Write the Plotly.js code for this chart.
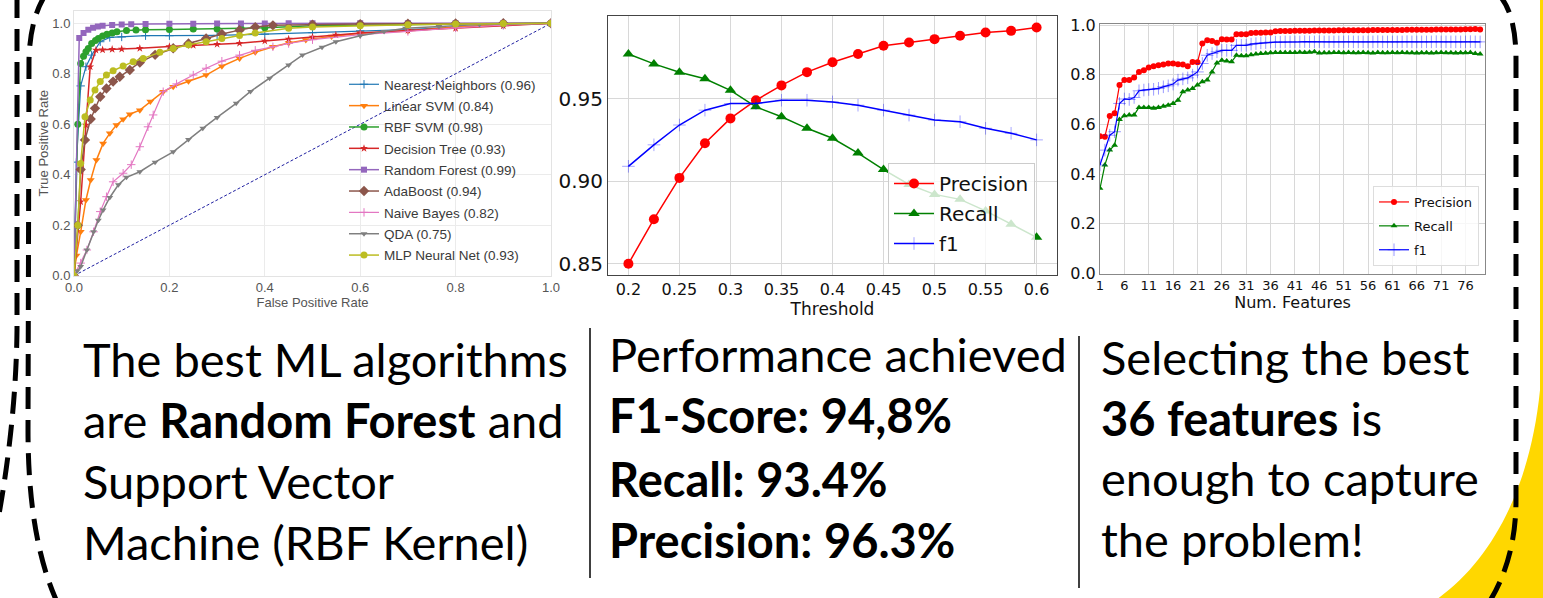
<!DOCTYPE html>
<html><head><meta charset="utf-8">
<script src="https://cdn.plot.ly/plotly-3.0.1.min.js"></script>
<style>html,body{margin:0;padding:0;background:#fff;}#chart{width:1543px;height:598px;}</style>
</head><body><div id="chart"></div>
<script>
// ---------------- ROC data (False Positive Rate / True Positive Rate) ----------------
const rocNames = ['Nearest Neighbors (0.96)','Linear SVM (0.84)','RBF SVM (0.98)','Decision Tree (0.93)','Random Forest (0.99)','AdaBoost (0.94)','Naive Bayes (0.82)','QDA (0.75)','MLP Neural Net (0.93)'];
const fprNN  = [0,0.005,0.014,0.025,0.037,0.055,0.075,0.1,0.15,0.2,0.3,0.4,0.5,0.6,0.7,0.8,0.9,1];
const tprNN  = [0,0.45,0.752,0.828,0.874,0.927,0.944,0.946,0.951,0.951,0.952,0.957,0.963,0.97,0.975,0.985,0.993,1];
const fprLSVM = [0,0.005,0.014,0.025,0.035,0.047,0.061,0.075,0.089,0.103,0.117,0.138,0.16,0.187,0.208,0.24,0.277,0.31,0.347,0.38,0.417,0.45,0.486,0.54,0.6,0.7,0.8,0.9,1];
const tprLSVM = [0,0.08,0.174,0.3,0.379,0.458,0.524,0.564,0.597,0.62,0.64,0.656,0.69,0.729,0.749,0.77,0.795,0.83,0.861,0.885,0.907,0.922,0.934,0.948,0.96,0.97,0.985,0.995,1];
const fprRBF = [0,0.008,0.014,0.02,0.025,0.03,0.037,0.045,0.051,0.06,0.069,0.08,0.09,0.11,0.13,0.15,0.2,0.25,0.3,0.35,0.4,0.5,0.6,0.7,0.8,0.9,1];
const tprRBF = [0,0.6,0.841,0.87,0.887,0.9,0.92,0.932,0.94,0.95,0.957,0.962,0.967,0.972,0.974,0.975,0.976,0.977,0.977,0.979,0.982,0.99,0.993,0.995,0.997,0.999,1];
const fprDT = [0,0.014,0.025,0.034,0.046,0.06,0.08,0.1,0.138,0.2,0.25,0.3,0.347,0.4,0.45,0.5,0.549,0.6,0.7,0.8,0.9,1];
const tprDT = [0,0.293,0.597,0.828,0.894,0.895,0.897,0.898,0.901,0.908,0.913,0.917,0.921,0.93,0.938,0.946,0.954,0.962,0.972,0.98,0.99,1];
const fprRF = [0,0.011,0.02,0.03,0.04,0.05,0.06,0.08,0.1,0.12,0.15,0.2,0.25,0.3,0.35,0.4,0.45,0.5,0.6,0.7,0.8,0.9,1];
const tprRF = [0,0.942,0.962,0.975,0.982,0.987,0.99,0.993,0.995,0.996,0.997,0.998,0.998,0.999,0.999,0.999,1,1,1,1,1,1,1];
const fprAda = [0,0.008,0.014,0.023,0.035,0.044,0.055,0.068,0.082,0.096,0.117,0.138,0.17,0.208,0.24,0.277,0.31,0.347,0.38,0.417,0.5,0.6,0.7,0.8,0.9,1];
const tprAda = [0,0.2,0.421,0.538,0.621,0.663,0.709,0.742,0.769,0.788,0.815,0.845,0.875,0.901,0.92,0.94,0.958,0.973,0.985,0.992,0.995,0.997,0.998,0.999,1,1];
const fprNB = [0,0.014,0.027,0.041,0.055,0.068,0.082,0.103,0.12,0.138,0.155,0.166,0.187,0.215,0.25,0.277,0.31,0.347,0.38,0.417,0.45,0.5,0.6,0.7,0.8,0.9,1];
const tprNB = [0,0.05,0.102,0.174,0.254,0.313,0.372,0.406,0.44,0.511,0.59,0.637,0.729,0.76,0.795,0.822,0.85,0.874,0.893,0.907,0.92,0.935,0.955,0.968,0.982,0.993,1];
const fprQDA = [0,0.007,0.014,0.027,0.041,0.051,0.061,0.075,0.093,0.11,0.138,0.17,0.208,0.24,0.27,0.3,0.34,0.37,0.41,0.45,0.479,0.52,0.549,0.6,0.65,0.695,0.765,0.85,1];
const tprQDA = [0,0.02,0.036,0.102,0.174,0.22,0.26,0.31,0.36,0.39,0.412,0.45,0.491,0.54,0.584,0.627,0.683,0.73,0.782,0.835,0.874,0.905,0.927,0.951,0.968,0.98,0.987,0.995,1];
const fprMLP = [0,0.008,0.014,0.023,0.034,0.044,0.055,0.068,0.082,0.103,0.124,0.145,0.18,0.208,0.24,0.277,0.31,0.347,0.38,0.45,0.5,0.6,0.7,0.8,0.9,1];
const tprMLP = [0,0.2,0.445,0.63,0.696,0.736,0.769,0.795,0.812,0.831,0.848,0.861,0.885,0.9,0.915,0.927,0.94,0.952,0.962,0.98,0.985,0.99,0.994,0.997,0.999,1];
const chanceX = [0,1];
const chanceY = [0,1];
const rocTicks = [0,0.2,0.4,0.6,0.8,1.0];

// ---------------- Threshold chart ----------------
const thresholds = [0.2,0.225,0.25,0.275,0.3,0.325,0.35,0.375,0.4,0.425,0.45,0.475,0.5,0.525,0.55,0.575,0.6];
const precisionThr = [0.850,0.877,0.902,0.923,0.938,0.949,0.958,0.966,0.972,0.977,0.982,0.984,0.986,0.988,0.990,0.991,0.993];
const recallThr    = [0.977,0.971,0.966,0.962,0.955,0.945,0.939,0.932,0.926,0.917,0.907,0.898,0.892,0.889,0.882,0.874,0.866];
const f1Thr        = [0.909,0.922,0.934,0.943,0.947,0.947,0.949,0.949,0.948,0.946,0.943,0.940,0.937,0.936,0.932,0.929,0.925];
const thrTickVals = [0.2,0.25,0.3,0.35,0.4,0.45,0.5,0.55,0.6];
const thrTickText = ['0.2','0.25','0.3','0.35','0.4','0.45','0.5','0.55','0.6'];
const thrYTickVals = [0.85,0.90,0.95];
const thrYTickText = ['0.85','0.90','0.95'];

// ---------------- Feature-count chart ----------------
const numFeatures = [1,2,3,4,5,6,7,8,9,10,11,12,13,14,15,16,17,18,19,20,21,22,23,24,25,26,27,28,29,30,31,32,33,34,35,36,37,38,39,40,41,42,43,44,45,46,47,48,49,50,51,52,53,54,55,56,57,58,59,60,61,62,63,64,65,66,67,68,69,70,71,72,73,74,75,76,77,78,79];
const precisionFeat = [0.553,0.551,0.634,0.645,0.759,0.779,0.779,0.790,0.812,0.819,0.830,0.835,0.839,0.842,0.846,0.846,0.843,0.842,0.835,0.852,0.851,0.926,0.940,0.937,0.929,0.944,0.943,0.943,0.964,0.964,0.964,0.969,0.970,0.970,0.971,0.971,0.976,0.977,0.977,
  0.977,0.978,0.978,0.978,0.978,0.979,0.979,0.979,0.979,0.979,0.980,0.980,0.980,0.980,0.980,0.980,0.980,0.981,0.981,0.981,0.981,0.981,0.981,0.981,0.982,0.982,0.982,0.982,0.982,0.982,0.983,0.983,0.983,0.983,0.983,0.983,0.984,0.984,0.985,0.983];
const recallFeat = [0.343,0.437,0.497,0.517,0.620,0.635,0.638,0.638,0.669,0.669,0.669,0.666,0.669,0.674,0.678,0.685,0.698,0.732,0.739,0.745,0.759,0.772,0.779,0.812,0.848,0.859,0.856,0.853,0.879,0.877,0.877,0.881,0.884,0.886,0.887,0.889,0.890,0.890,0.890,0.890,
  0.890,0.891,0.890,0.891,0.893,0.888,0.889,0.889,0.890,0.890,0.889,0.890,0.889,0.889,0.890,0.889,0.888,0.890,0.889,0.889,0.890,0.889,0.890,0.889,0.889,0.888,0.889,0.889,0.888,0.889,0.890,0.889,0.889,0.888,0.889,0.889,0.890,0.886,0.884];
const f1Feat = [0.437,0.497,0.557,0.571,0.685,0.703,0.701,0.709,0.736,0.739,0.741,0.742,0.746,0.752,0.756,0.763,0.779,0.784,0.788,0.799,0.812,0.846,0.879,0.886,0.893,0.899,0.899,0.899,0.919,0.919,0.919,0.924,0.926,0.929,0.930,0.932,0.932,0.932,0.933,0.933,
  0.933,0.933,0.934,0.933,0.933,0.934,0.933,0.933,0.933,0.933,0.933,0.934,0.933,0.933,0.933,0.933,0.933,0.934,0.933,0.933,0.933,0.933,0.933,0.934,0.933,0.933,0.933,0.933,0.933,0.934,0.933,0.933,0.933,0.933,0.933,0.933,0.934,0.933,0.933];
const featTickVals = [1,6,11,16,21,26,31,36,41,46,51,56,61,66,71,76];
const featYTickVals = [0,0.2,0.4,0.6,0.8,1.0];
const metricNames = ['Precision','Recall','f1'];

// ---------------- Slide text ----------------
const col1Lines = ['The best ML algorithms','are <b>Random Forest</b> and','Support Vector','Machine (RBF Kernel)'];
const col2Lines = ['Performance achieved','<b>F1-Score: 94,8%</b>','<b>Recall: 93.4%</b>','<b>Precision: 96.3%</b>'];
const col3Lines = ['Selecting the best','<b>36 features</b> is','enough to capture','the problem!'];

// ====================================================================
const W = 1543, H = 598;
const px = x => x / W;
const py = y => 1 - y / H;
const P = (x, y) => px(x).toFixed(5) + ',' + py(y).toFixed(5);

const rocSets = [
  [fprNN, tprNN, '#1f77b4', {symbol:'cross-thin', size:6, line:{width:1, color:'#1f77b4'}}, 1.2],
  [fprLSVM, tprLSVM, '#ff7f0e', {symbol:'triangle-down', size:7}, 1.5],
  [fprRBF, tprRBF, '#2ca02c', {symbol:'circle', size:7}, 1.5],
  [fprDT, tprDT, '#d62728', {symbol:'star', size:6}, 1.5],
  [fprRF, tprRF, '#9467bd', {symbol:'square', size:6}, 1.5],
  [fprAda, tprAda, '#8c564b', {symbol:'diamond', size:8}, 1.5],
  [fprNB, tprNB, '#e377c2', {symbol:'cross-thin', size:6, line:{width:1, color:'#e377c2'}}, 1.2],
  [fprQDA, tprQDA, '#7f7f7f', {symbol:'triangle-down', size:6}, 1.5],
  [fprMLP, tprMLP, '#bcbd22', {symbol:'circle', size:7}, 1.5]
];
const traces = [];
traces.push({x:chanceX, y:chanceY, mode:'lines', line:{color:'#1f1fa0', width:1, dash:'3px,2px'}, showlegend:false, xaxis:'x', yaxis:'y', hoverinfo:'skip'});
rocSets.forEach((s, i) => {
  const m = Object.assign({color:s[2]}, s[3]);
  traces.push({x:s[0], y:s[1], name:rocNames[i], mode:'lines+markers', line:{color:s[2], width:s[4]}, marker:m,
               xaxis:'x', yaxis:'y', legend:'legend', legendgroup:'r'+i});
});
// threshold chart
traces.push({x:thresholds, y:precisionThr, name:metricNames[0], mode:'lines+markers', line:{color:'#ff0000', width:1.5}, marker:{symbol:'circle', size:10, color:'#ff0000'}, xaxis:'x2', yaxis:'y2', legend:'legend2', legendgroup:'t0'});
traces.push({x:thresholds, y:recallThr, name:metricNames[1], mode:'lines+markers', line:{color:'#008000', width:1.5}, marker:{symbol:'triangle-up', size:10, color:'#008000'}, xaxis:'x2', yaxis:'y2', legend:'legend2', legendgroup:'t1'});
traces.push({x:thresholds, y:f1Thr, name:metricNames[2], mode:'lines+markers', line:{color:'#0000ff', width:1.5}, marker:{symbol:'cross-thin', size:9, line:{width:1, color:'rgba(0,0,255,0.35)'}}, xaxis:'x2', yaxis:'y2', legend:'legend2', legendgroup:'t2'});
// feature chart
traces.push({x:numFeatures, y:precisionFeat, name:metricNames[0], mode:'lines+markers', line:{color:'#ff0000', width:1.2}, marker:{symbol:'circle', size:6, color:'#ff0000'}, xaxis:'x3', yaxis:'y3', legend:'legend3', legendgroup:'f0'});
traces.push({x:numFeatures, y:recallFeat, name:metricNames[1], mode:'lines+markers', line:{color:'#008000', width:1.2}, marker:{symbol:'triangle-up', size:6, color:'#008000'}, xaxis:'x3', yaxis:'y3', legend:'legend3', legendgroup:'f1'});
traces.push({x:numFeatures, y:f1Feat, name:metricNames[2], mode:'lines+markers', line:{color:'#0000ff', width:1.2}, marker:{symbol:'cross-thin', size:9, line:{width:1, color:'rgba(0,0,255,0.4)'}}, xaxis:'x3', yaxis:'y3', legend:'legend3', legendgroup:'f2'});

const rocFont = {family:'Liberation Sans, Arial, sans-serif', size:13, color:'#555'};
const mplFont = {family:'DejaVu Sans, sans-serif', color:'#111'};

const annotations = [];
const addCol = (lines, x, ys) => lines.forEach((t, i) => annotations.push({
  xref:'paper', yref:'paper', x:px(x), y:py(ys[i]), xanchor:'left', yanchor:'middle', showarrow:false,
  text:t, font:{family:'Lato, sans-serif', size:47, color:'#000'}
}));
addCol(col1Lines, 81, [359, 420, 481, 542]);
addCol(col2Lines, 607, [354, 415, 479, 540]);
addCol(col3Lines, 1099, [357, 418, 478, 539]);

const shapes = [
  {type:'path', xref:'paper', yref:'paper', layer:'below', line:{width:0}, fillcolor:'#FFD700',
   path:'M'+P(1430,604)+' C'+P(1490,565)+' '+P(1530,490)+' '+P(1540,390)+' L'+P(1540,-2)+' L'+P(1546,-2)+' L'+P(1546,604)+' Z'},
  {type:'path', xref:'paper', yref:'paper', layer:'above', line:{color:'#000', width:5, dash:'22px,11px'},
   path:'M'+P(46,-6)+' Q'+P(30,18)+' '+P(29,60)+' L'+P(28,430)+' Q'+P(28,540)+' '+P(58,604)},
  {type:'path', xref:'paper', yref:'paper', layer:'above', line:{color:'#000', width:5, dash:'22px,11px'},
   path:'M'+P(17,-4)+' L'+P(17,330)+' Q'+P(16,420)+' '+P(-2,520)},
  {type:'path', xref:'paper', yref:'paper', layer:'above', line:{color:'#000', width:5, dash:'22px,11px'},
   path:'M'+P(1498,-6)+' Q'+P(1516,12)+' '+P(1516,60)+' L'+P(1516,500)+' Q'+P(1516,560)+' '+P(1488,604)},
  {type:'line', xref:'paper', yref:'paper', x0:px(590), x1:px(590), y0:py(328), y1:py(578), line:{color:'#404040', width:2}},
  {type:'line', xref:'paper', yref:'paper', x0:px(1079), x1:px(1079), y0:py(336), y1:py(588), line:{color:'#404040', width:2}}
];

const layout = {
  width:W, height:H, margin:{l:0, r:0, t:0, b:0}, paper_bgcolor:'#fff', plot_bgcolor:'#fff',
  showlegend:true, hovermode:false,
  xaxis:{domain:[px(74), px(551)], range:[0,1], anchor:'y', tickvals:rocTicks, tickformat:'.1f', ticks:'',
         showgrid:true, gridcolor:'#ebebeb', zeroline:false, showline:true, linecolor:'#e3e3e3', mirror:true,
         tickfont:rocFont, title:{text:'False Positive Rate', font:rocFont, standoff:3}},
  yaxis:{domain:[py(275.7), py(10.7)], range:[0,1.05], anchor:'x', tickvals:rocTicks, tickformat:'.1f', ticks:'',
         showgrid:true, gridcolor:'#ebebeb', zeroline:false, showline:true, linecolor:'#e3e3e3', mirror:true,
         tickfont:rocFont, title:{text:'True Positive Rate', font:rocFont, standoff:0}},
  xaxis2:{domain:[px(608), px(1057)], range:[0.18,0.62], anchor:'y2', tickvals:thrTickVals, ticktext:thrTickText, ticks:'',
          showgrid:true, gridcolor:'#d8d8d8', zeroline:false, showline:true, linecolor:'#444', mirror:true,
          tickfont:Object.assign({size:16}, mplFont), title:{text:'Threshold', font:Object.assign({size:17}, mplFont), standoff:0}},
  yaxis2:{domain:[py(275), py(16)], range:[0.8432,1.0], anchor:'x2', tickvals:thrYTickVals, ticktext:thrYTickText, ticks:'',
          showgrid:true, gridcolor:'#d8d8d8', zeroline:false, showline:true, linecolor:'#444', mirror:true,
          tickfont:Object.assign({size:20}, mplFont)},
  xaxis3:{domain:[px(1100), px(1485)], range:[1,80], anchor:'y3', tickvals:featTickVals, ticks:'',
          showgrid:true, gridcolor:'#d8d8d8', zeroline:false, showline:true, linecolor:'#888', mirror:true,
          tickfont:Object.assign({size:13}, mplFont), title:{text:'Num. Features', font:Object.assign({size:16}, mplFont), standoff:1}},
  yaxis3:{domain:[py(273.5), py(24)], range:[0,1.005], anchor:'x3', tickvals:featYTickVals, tickformat:'.1f', ticks:'',
          showgrid:true, gridcolor:'#d8d8d8', zeroline:false, showline:true, linecolor:'#888', mirror:true,
          tickfont:Object.assign({size:16}, mplFont)},
  legend:{x:px(344), y:py(69), xanchor:'left', yanchor:'top', bgcolor:'rgba(0,0,0,0)', borderwidth:0,
          font:{family:'Liberation Sans, Arial, sans-serif', size:13.5, color:'#3a3a3a'}, traceorder:'grouped', tracegroupgap:0.8},
  legend2:{x:px(888), y:py(163), xanchor:'left', yanchor:'top', bgcolor:'rgba(255,255,255,0.8)', bordercolor:'#cccccc', borderwidth:1,
           font:Object.assign({size:20}, mplFont), traceorder:'grouped', tracegroupgap:1, itemwidth:40},
  legend3:{x:px(1373), y:py(186), xanchor:'left', yanchor:'top', bgcolor:'rgba(255,255,255,0.8)', bordercolor:'#dddddd', borderwidth:1,
           font:Object.assign({size:13}, mplFont), traceorder:'grouped', tracegroupgap:4},
  annotations:annotations, shapes:shapes
};

Plotly.newPlot('chart', traces, layout, {staticPlot:true, displayModeBar:false});
</script>
</body></html>
